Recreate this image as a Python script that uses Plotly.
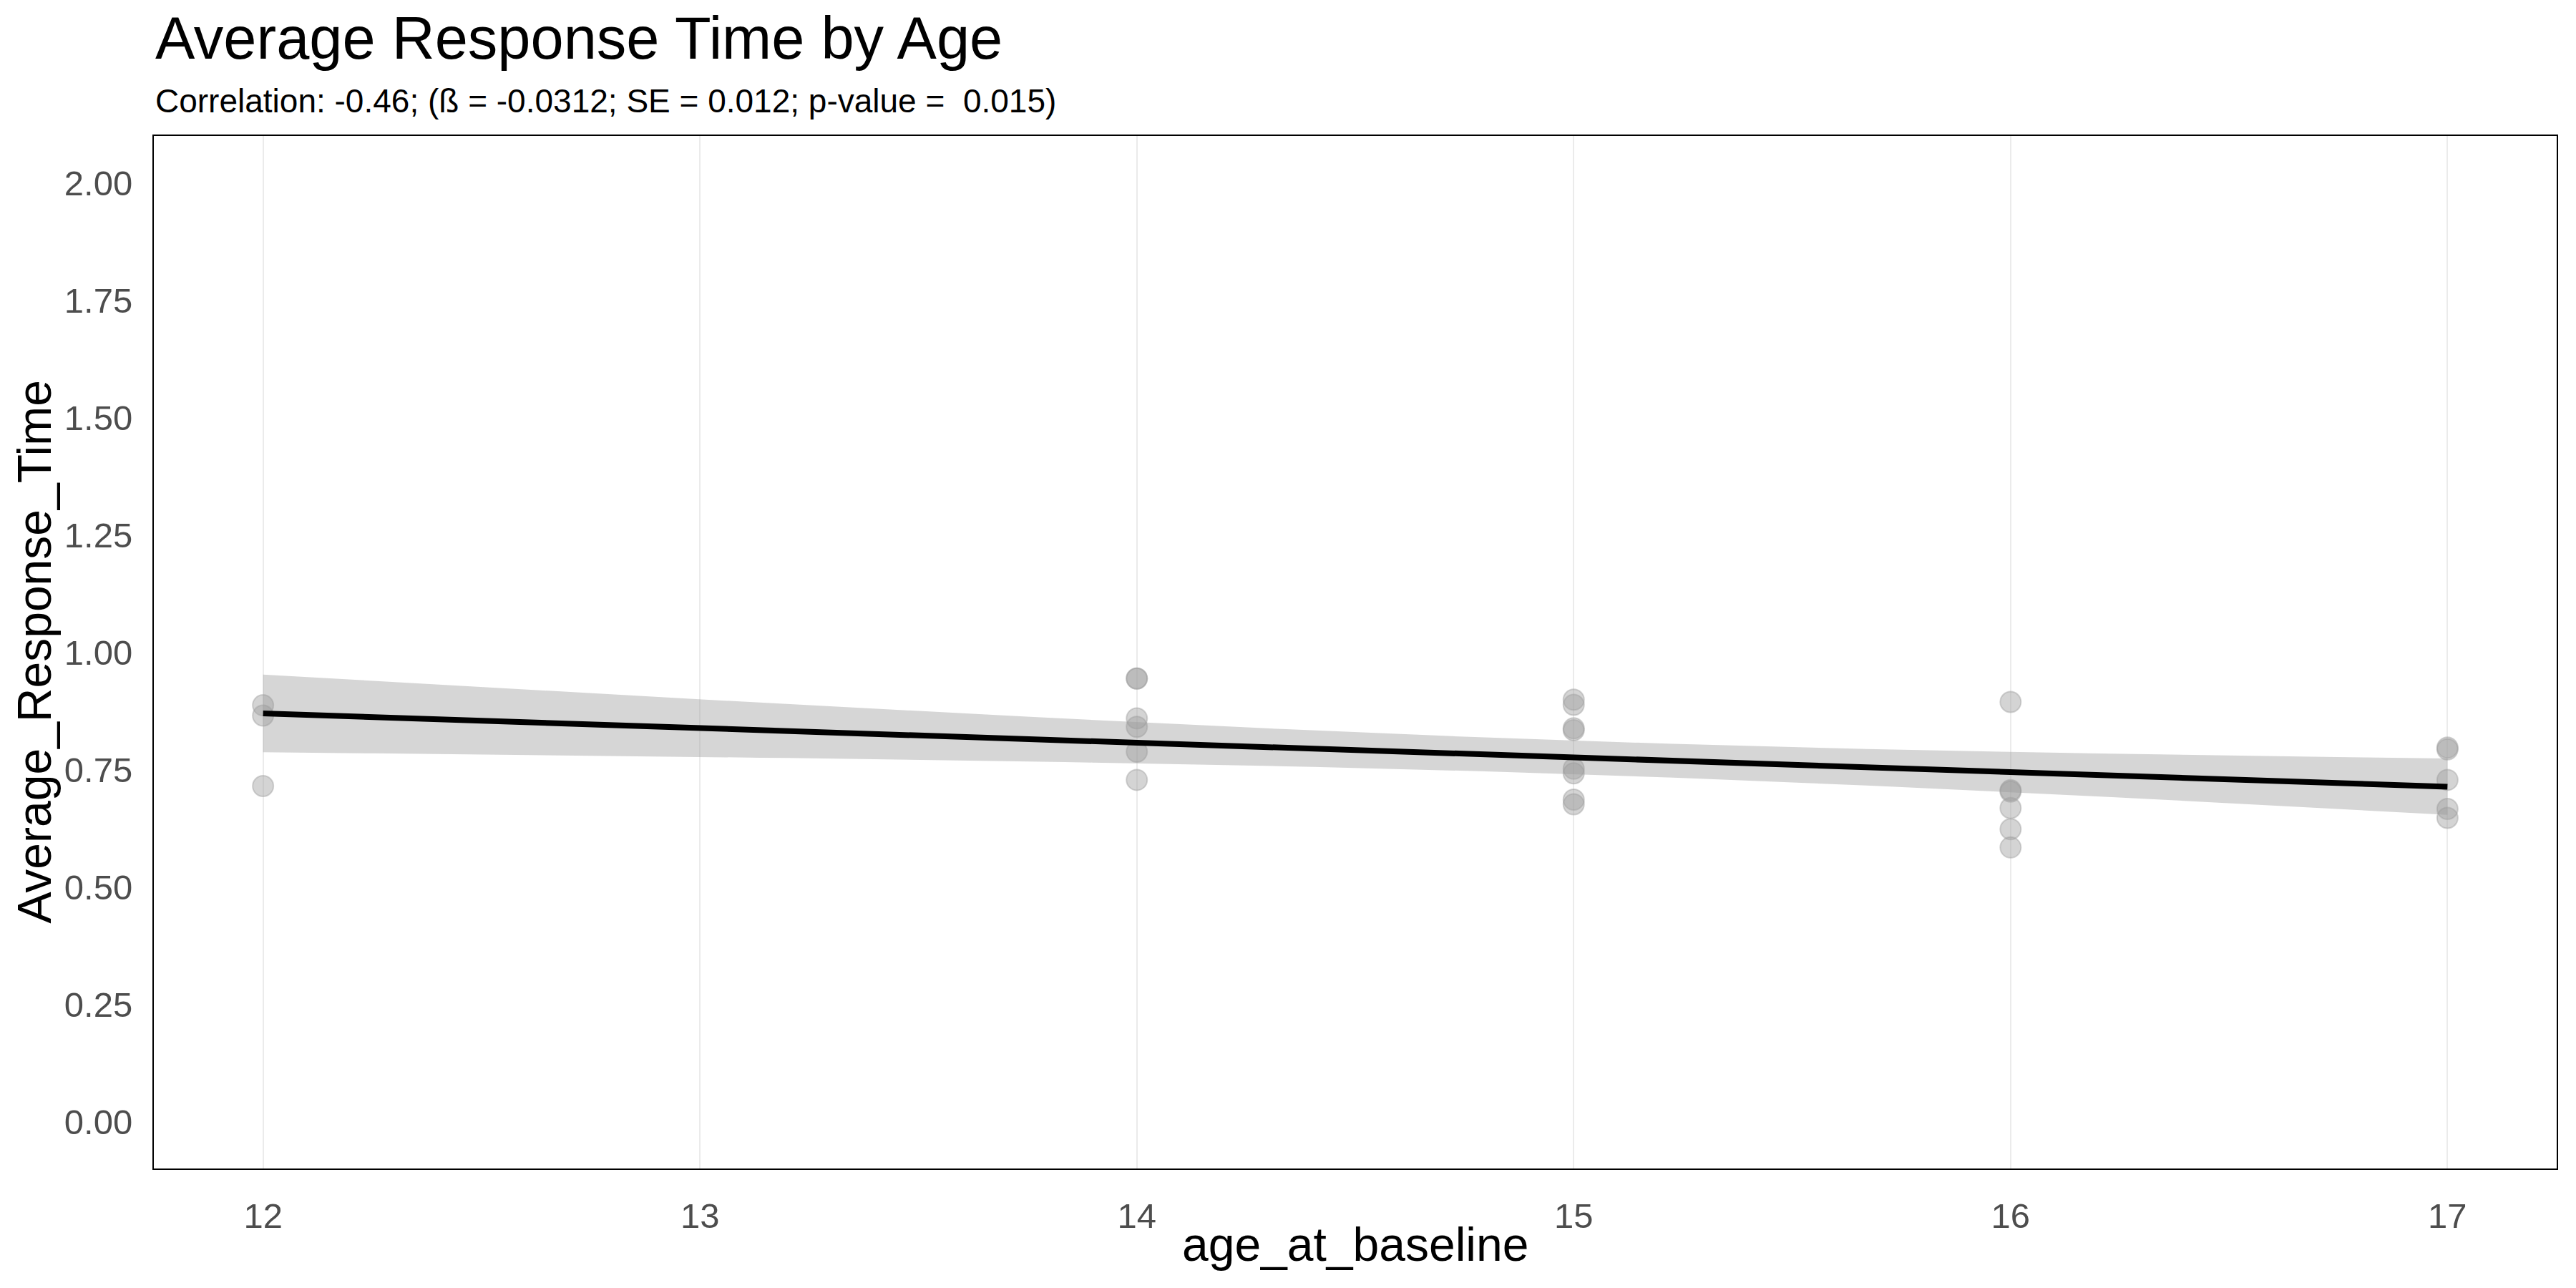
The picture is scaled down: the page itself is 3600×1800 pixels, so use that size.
import numpy as np
import plotly.graph_objects as go

# ---- data ----
age_at_baseline = [12, 12, 12,
                   14, 14, 14, 14, 14, 14,
                   15, 15, 15, 15, 15, 15, 15, 15,
                   16, 16, 16, 16, 16, 16,
                   17, 17, 17, 17, 17]
average_response_time = [0.887, 0.865, 0.715,
                         0.944, 0.944, 0.859, 0.841, 0.788, 0.728,
                         0.899, 0.888, 0.838, 0.834, 0.752, 0.742, 0.686, 0.676,
                         0.894, 0.706, 0.703, 0.668, 0.623, 0.584,
                         0.797, 0.793, 0.728, 0.666, 0.647]
x_ticks = [12, 13, 14, 15, 16, 17]
y_ticks = [0.00, 0.25, 0.50, 0.75, 1.00, 1.25, 1.50, 1.75, 2.00]
y_tick_labels = ["0.00", "0.25", "0.50", "0.75", "1.00", "1.25", "1.50", "1.75", "2.00"]
title_text = "Average Response Time by Age"
subtitle_text = "Correlation: -0.46; (ß = -0.0312; SE = 0.012; p-value =  0.015)"
x_title = "age_at_baseline"
y_title = "Average_Response_Time"

# ---- linear fit with 95% confidence band (like geom_smooth(method='lm')) ----
x = np.array(age_at_baseline, dtype=float)
y = np.array(average_response_time, dtype=float)
n = len(x)
slope, intercept = np.polyfit(x, y, 1)
resid = y - (intercept + slope * x)
s = np.sqrt(np.sum(resid ** 2) / (n - 2))
sxx = np.sum((x - x.mean()) ** 2)
t_crit = 2.056  # t(0.975, df=26)
xg = np.linspace(x.min(), x.max(), 80)
yg = intercept + slope * xg
half = t_crit * s * np.sqrt(1.0 / n + (xg - x.mean()) ** 2 / sxx)
upper = yg + half
lower = yg - half

FONT = "Liberation Sans, Arial, Helvetica, sans-serif"

fig = go.Figure()
fig.add_trace(go.Scatter(
    x=age_at_baseline, y=average_response_time, mode="markers",
    marker=dict(size=29, color="rgba(160,160,160,0.45)",
                line=dict(color="rgba(160,160,160,0.45)", width=2)),
    showlegend=False, hoverinfo="x+y"))
fig.add_trace(go.Scatter(
    x=np.concatenate([xg, xg[::-1]]), y=np.concatenate([upper, lower[::-1]]),
    fill="toself", fillcolor="rgba(153,153,153,0.4)", line=dict(width=0),
    mode="lines", showlegend=False, hoverinfo="skip"))
fig.add_trace(go.Scatter(
    x=xg, y=yg, mode="lines", line=dict(color="black", width=8),
    showlegend=False))

W, H = 3600, 1800
left, right, top, bottom = 215, 27, 190, 167
pw = W - left - right
ph = H - top - bottom


def py(pix):
    return 1 + (top - pix) / ph


def px(pix):
    return (pix - left) / pw


fig.update_layout(
    width=W, height=H,
    margin=dict(l=left, r=right, t=top, b=bottom, autoexpand=False),
    paper_bgcolor="white", plot_bgcolor="white",
    font=dict(family=FONT, color="black"),
    annotations=[
        dict(text=title_text, x=0, xref="paper", xanchor="left",
             y=py(53), yref="paper", yanchor="middle", showarrow=False,
             font=dict(size=83, color="black", family=FONT)),
        dict(text=subtitle_text, x=0, xref="paper", xanchor="left",
             y=py(141), yref="paper", yanchor="middle", showarrow=False,
             font=dict(size=46, color="black", family=FONT)),
        dict(text=x_title, x=0.5, xref="paper", xanchor="center",
             y=py(1739), yref="paper", yanchor="middle", showarrow=False,
             font=dict(size=66, color="black", family=FONT)),
        dict(text=y_title, x=px(47), xref="paper", xanchor="center",
             y=0.5, yref="paper", yanchor="middle", showarrow=False, textangle=-90,
             font=dict(size=66, color="black", family=FONT)),
    ],
)
fig.update_xaxes(
    range=[11.75, 17.25], tickvals=x_ticks, ticktext=[str(v) for v in x_ticks],
    showgrid=True, gridcolor="#EBEBEB", gridwidth=2, zeroline=False,
    showline=True, mirror=True, linecolor="black", linewidth=2,
    ticks="outside", ticklen=22, tickcolor="rgba(0,0,0,0)",
    tickfont=dict(size=49, color="#4D4D4D", family=FONT),
)
fig.update_yaxes(
    range=[-0.1, 2.1], tickvals=y_ticks, ticktext=y_tick_labels,
    showgrid=False, zeroline=False,
    showline=True, mirror=True, linecolor="black", linewidth=2,
    ticks="outside", ticklen=18, tickcolor="rgba(0,0,0,0)",
    tickfont=dict(size=49, color="#4D4D4D", family=FONT),
)

fig.write_html("out.html", config={"displayModeBar": False},
               post_script="document.body.style.margin='0px';")
